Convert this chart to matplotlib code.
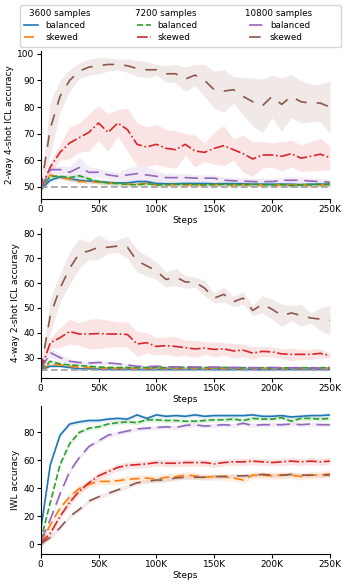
import numpy as np
import matplotlib
matplotlib.use('Agg')
import matplotlib.pyplot as plt
from matplotlib.lines import Line2D
from matplotlib.ticker import FuncFormatter

# training steps (in thousands)
steps_k = [0, 8.3, 16.7, 25, 33.3, 41.7, 50, 58.3, 66.7, 75, 83.3, 91.7, 100, 108.3, 116.7,
           125, 133.3, 141.7, 150, 158.3, 166.7, 175, 183.3, 191.7, 200, 208.3, 216.7, 225,
           233.3, 241.7, 250]

# ---- panel 1: 2-way 4-shot ICL accuracy
icl2_b3600 = [49, 52.5, 53.8, 53, 52.5, 52.2, 52, 51.7, 51.5, 51.5, 52, 52, 51.3, 51.2, 51.2, 51.3,
              51.3, 51.3, 51.2, 51.2, 51.2, 51.2, 51, 51, 51, 51, 51, 50.8, 51, 51, 51]
icl2_s3600 = [49, 54.5, 53.5, 53, 52, 52, 51.8, 51.5, 51.3, 51, 51, 51.3, 50.8, 50.8, 50.9, 50.8,
              50.8, 50.8, 50.9, 50.8, 50.8, 50.9, 50.8, 50.8, 50.7, 50.8, 50.7, 50.8, 50.7, 50.8, 50.7]
icl2_b7200 = [49, 54, 54, 53.5, 54.2, 53, 52, 51.5, 51.3, 51, 50.8, 51.2, 50.8, 50.9, 51, 51,
              50.9, 50.8, 50.9, 51, 50.9, 50.8, 51, 50.9, 50.8, 50.9, 50.5, 50.8, 50.9, 51, 51]
icl2_s7200 = [49, 57.5, 63, 66.5, 68.5, 70.5, 74, 70.5, 74, 71.5, 66, 65, 66, 64.5, 64, 66,
              63.5, 63, 64.5, 65.5, 64, 62.5, 60.5, 62, 62, 61.5, 62.5, 60.8, 61.5, 62.3, 61]
icl2_b10800 = [49, 56.5, 56.5, 55.5, 57.3, 55.5, 55.5, 54.5, 54, 54.5, 55, 54.5, 54, 53.5, 53.5,
               53.5, 53.3, 53.3, 53.3, 52.5, 52.3, 52.2, 52, 52, 52, 52.5, 52.5, 52.5, 52.2, 52, 51.8]
icl2_s10800 = [49, 72, 84, 90, 93.5, 95, 95.5, 96, 96, 95.5, 94.5, 94, 94, 92.5, 92.5, 90.5,
               92, 90, 86.5, 86, 86.5, 84, 82, 80.5, 84, 81, 84, 82, 81.5, 81.5, 80]
icl2_err_s7200 = [0.5, 2, 3, 6, 5.5, 7, 6.5, 7, 5, 8, 8, 7.5, 7.5, 7, 7, 4, 6, 3.5, 6, 7.5,
                  4, 7, 6.5, 5, 4.5, 5.5, 5, 5, 5.5, 6, 4.5]
icl2_err_b10800 = [0.5, 1.5, 1.5, 2, 4, 2, 1.5, 1.5, 1.5, 2.5, 3, 3, 2, 1.5, 1.5, 1.5, 1.2,
                   1.2, 1.2, 1.2, 1.2, 1.2, 1.2, 1.2, 1.2, 1.2, 1.2, 1.2, 1.2, 1.2, 1.2]
icl2_err_s10800 = [1, 10, 6, 4, 3, 3, 3, 2.5, 2, 2.5, 3, 3, 2, 3, 3.5, 4.5, 4, 6, 7, 8, 5,
                   7, 9, 10, 8, 10, 8, 8, 7, 7, 10]
icl2_err_small = 0.8
icl2_chance = 50

# ---- panel 2: 4-way 2-shot ICL accuracy
icl4_b3600 = [25, 26.5, 26.5, 26, 25.5, 25.5, 25.3, 25.3, 25.2, 25.3, 25.2, 25.2, 25.2, 25.2,
              25.2, 25.2, 25.2, 25.2, 25.2, 25.2, 25.2, 25.2, 25.2, 25.1, 25.2, 25.2, 25.2, 25.2,
              25.2, 25.2, 25.2]
icl4_s3600 = [25, 27.5, 27, 26.5, 26, 26, 25.8, 25.8, 25.7, 25.8, 25.7, 25.7, 25.8, 25.7, 25.7,
              25.7, 25.8, 25.7, 25.7, 25.7, 25.8, 25.7, 25.7, 25.7, 25.7, 25.8, 25.7, 25.7, 25.7,
              25.7, 25.8]
icl4_b7200 = [25, 28.5, 27.5, 27, 26.8, 26.5, 26.2, 26, 26, 26, 26, 26, 26, 25.9, 26, 26, 25.9,
              26, 25.9, 26, 25.9, 25.9, 25.9, 25.9, 25.9, 25.8, 25.9, 25.9, 25.9, 25.9, 26]
icl4_s7200 = [25, 36, 38, 40.5, 39.5, 39.5, 39.7, 39.5, 39.5, 39.3, 35.5, 36, 34.5, 34.8, 34.5,
              34, 33.5, 33.8, 33.3, 33.5, 32.7, 33, 31.8, 32.5, 32.3, 31.5, 31.3, 31.3, 31.3,
              31.7, 30.8]
icl4_b10800 = [25, 32, 30, 28.5, 28, 27.8, 28, 27.8, 27.5, 27, 26.5, 26.3, 26.5, 26.3, 26.2,
               26.3, 26.2, 26.1, 26.2, 26, 26, 26, 25.9, 25.9, 26, 25.9, 25.9, 25.9, 25.8, 25.8, 25.8]
icl4_s10800 = [25, 47, 58, 66, 72, 73, 74.5, 74.5, 75, 74.5, 69, 67, 65, 61.5, 62.5, 60.5,
               60.5, 58, 54, 55.5, 52.5, 54, 49, 51.5, 49.5, 47, 48, 47, 46, 45.5, 45]
icl4_err_s7200 = [0.5, 2, 4, 5, 4.5, 6, 6, 5.5, 5, 5, 5, 4, 3.5, 3.5, 4, 3, 3.5, 2.5, 3, 2.5,
                  3, 2.5, 2.5, 2, 2, 2, 2.5, 2, 2, 2, 1]
icl4_err_b10800 = [0.3, 2, 1.5, 1, 0.8, 0.8, 0.8, 0.7, 0.7, 0.7, 0.6, 0.6, 0.6, 0.5, 0.5, 0.5,
                   0.5, 0.5, 0.5, 0.5, 0.5, 0.5, 0.5, 0.5, 0.5, 0.5, 0.5, 0.5, 0.5, 0.5, 0.5]
icl4_err_s10800 = [0.5, 7, 5.5, 6.5, 6, 3.5, 5, 2.5, 2.5, 4.5, 4.5, 4, 3.5, 3, 3.5, 2.5, 2,
                   3, 2, 3, 2, 2.5, 2, 3.5, 4, 4.5, 3, 4.5, 2, 4.5, 6]
icl4_err_small = 0.5
icl4_chance = 25

# ---- panel 3: IWL accuracy
iwl_b3600 = [10, 57, 78, 86, 87.5, 88.5, 88.5, 89.5, 90, 89.5, 92.5, 90, 92.5, 91.5, 92, 91.5,
             92.5, 91.5, 92, 92, 92, 92, 92.5, 91.5, 91.5, 92, 91, 91.5, 92, 92, 92.5]
iwl_s3600 = [0.5, 14, 26, 34, 40, 43, 45, 45, 45.5, 46.5, 47, 47.5, 46.5, 48, 48.5, 49.5, 49,
             48, 48.5, 48.5, 47.5, 46, 49.5, 49.5, 49, 49.5, 49.5, 48.5, 49.5, 49.5, 50.5]
iwl_b7200 = [3, 30, 57, 72, 80, 83, 84, 86, 87, 87.5, 87, 89, 89, 88.5, 88.5, 88, 88, 88.5,
             89, 89, 89.5, 88.5, 90, 89.5, 89.5, 90.5, 88, 90, 90, 89.5, 90]
iwl_s7200 = [0.5, 8, 20, 30, 38, 44, 49, 52, 55, 56.5, 57, 57.5, 58.5, 58, 58, 58.5, 58.5,
             58.5, 57.5, 58.5, 59, 59, 59.5, 59, 58.5, 59, 59.5, 59, 59.5, 59, 59.5]
iwl_b10800 = [2, 18, 36, 52, 62, 70, 74, 78, 79.5, 81, 82.5, 83, 83.5, 84, 83.5, 85, 85.5,
              84.5, 85, 85.5, 85, 86.5, 85, 85.5, 85.5, 85.5, 86, 85.5, 86, 85.5, 85.5]
iwl_s10800 = [0.5, 5, 12, 20, 25, 31, 34, 36.5, 39, 41.5, 44, 45, 46, 46, 47.5, 48, 48, 48,
              48.5, 48.5, 49, 49, 49.5, 50, 49.5, 49.5, 50, 49.5, 49.5, 49.5, 49.5]
iwl_err = [1.5, 2.5, 1.5, 2.5, 1.5, 1.5]

sample_sizes = ['3600', '7200', '10800']
kinds = ['balanced', 'skewed']
colors = ['#1f77b4', '#ff7f0e', '#2ca02c', '#d62728', '#9467bd', '#8c564b']
styles = ['-', (0, (6, 3)), '--', '-.', (0, (8, 4)), (0, (7, 6))]

x = np.array(steps_k) * 1000

panels = [
    ([icl2_b3600, icl2_s3600, icl2_b7200, icl2_s7200, icl2_b10800, icl2_s10800],
     [icl2_err_small, icl2_err_small, icl2_err_small, icl2_err_s7200, icl2_err_b10800, icl2_err_s10800],
     '2-way 4-shot ICL accuracy', icl2_chance, [50, 60, 70, 80, 90, 100]),
    ([icl4_b3600, icl4_s3600, icl4_b7200, icl4_s7200, icl4_b10800, icl4_s10800],
     [icl4_err_small, icl4_err_small, icl4_err_small, icl4_err_s7200, icl4_err_b10800, icl4_err_s10800],
     '4-way 2-shot ICL accuracy', icl4_chance, [30, 40, 50, 60, 70, 80]),
    ([iwl_b3600, iwl_s3600, iwl_b7200, iwl_s7200, iwl_b10800, iwl_s10800],
     iwl_err, 'IWL accuracy', None, [0, 20, 40, 60, 80]),
]

fig = plt.figure(figsize=(3.57, 5.87), dpi=100)
boxes = [[0.114, 0.661, 0.810, 0.252], [0.114, 0.356, 0.810, 0.2555], [0.114, 0.0562, 0.810, 0.252]]

for box, (vals, errs, ylabel, chance, yt) in zip(boxes, panels):
    ax = fig.add_axes(box)
    for v, e, c, ls in zip(vals, errs, colors, styles):
        v = np.array(v)
        e = np.array(e) if np.ndim(e) else np.full(len(v), e)
        ax.fill_between(x, v - e, v + e, color=c, alpha=0.13, linewidth=0)
        ax.plot(x, v, color=c, linestyle=ls, linewidth=1.2)
    if chance is not None:
        ax.axhline(chance, color='#a0a0a0', linestyle=(0, (4, 2)), linewidth=1.2)
    ax.set_xlim(0, 250000)
    ax.set_xticks([0, 50000, 100000, 150000, 200000, 250000])
    ax.xaxis.set_major_formatter(FuncFormatter(lambda v, p: '0' if v == 0 else f'{int(v / 1000)}K'))
    ax.set_yticks(yt)
    ax.set_ylabel(ylabel, fontsize=6.5, labelpad=2)
    ax.set_xlabel('Steps', fontsize=6.5, labelpad=1)
    ax.tick_params(labelsize=6.5, length=3, width=0.8, pad=1.5)
    ax.spines['top'].set_visible(False)
    ax.spines['right'].set_visible(False)

# legend: one column per sample size; the header entries only reserve width,
# the visible headers are written over them a bit to the left
blank = Line2D([], [], linestyle='none')
handles, labels = [], []
for i, n in enumerate(sample_sizes):
    handles.append(blank)
    labels.append(f'{n} samples')
    for j, kind in enumerate(kinds):
        k = 2 * i + j
        handles.append(Line2D([], [], color=colors[k], linestyle=styles[k], linewidth=1.2))
        labels.append(kind)
leg = fig.legend(handles, labels, ncol=3, loc='upper left',
                 bbox_to_anchor=(20 / 357, 1 - 5 / 587), borderaxespad=0,
                 fontsize=6.3, handlelength=1.6, handletextpad=0.8, labelspacing=0.35,
                 borderpad=0.5, columnspacing=3.4, frameon=True, fancybox=True,
                 edgecolor='#cccccc')
for t in leg.get_texts():
    if t.get_text().endswith('samples'):
        t.set_alpha(0)

for n, hx in zip(sample_sizes, [29, 135, 245]):
    fig.text(hx / 357, 1 - 13 / 587, f'{n} samples', fontsize=6.3, ha='left', va='center',
             zorder=10)

fig.savefig('out.png', dpi=100)
